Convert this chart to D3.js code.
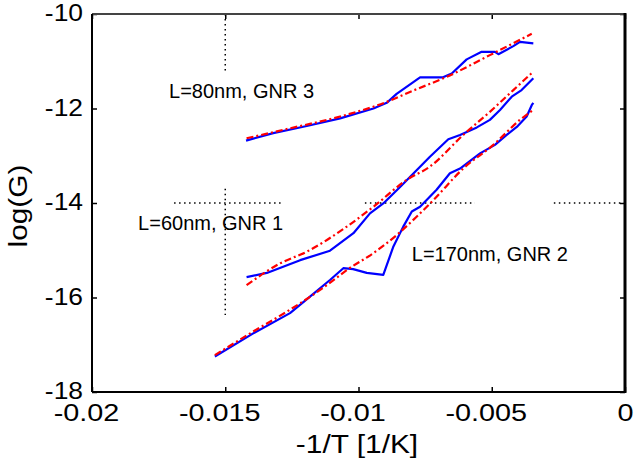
<!DOCTYPE html>
<html><head><meta charset="utf-8">
<script src="https://cdn.jsdelivr.net/npm/d3@7"></script>
<style>
body{margin:0;background:#fff;}
svg{display:block;}
text{font-family:"Liberation Sans",Arial,sans-serif;fill:#000;}
</style></head>
<body>
<script>
// ---- data ----
const xTickValues = [-0.02, -0.015, -0.01, -0.005, 0];
const xTickLabels = ["-0.02", "-0.015", "-0.01", "-0.005", "0"];
const yTickValues = [-10, -12, -14, -16, -18];
const yTickLabels = ["-10", "-12", "-14", "-16", "-18"];

const gnr3X = [-0.01422,-0.01320,-0.01194,-0.01069,-0.00944,-0.00894,-0.00857,-0.00769,-0.00683,-0.00650,-0.00594,-0.00538,-0.00488,-0.00475,-0.00419,-0.00394,-0.00344];
const gnr3Y = [-12.68,-12.52,-12.37,-12.21,-12.00,-11.88,-11.69,-11.34,-11.34,-11.26,-10.96,-10.80,-10.80,-10.85,-10.68,-10.59,-10.62];
const gnr3FitX = [-0.01420,-0.01257,-0.01069,-0.00894,-0.00794,-0.00669,-0.00507,-0.00350];
const gnr3FitY = [-12.63,-12.42,-12.17,-11.86,-11.62,-11.33,-10.87,-10.42];

const gnr1X = [-0.01420,-0.01344,-0.01219,-0.01107,-0.01019,-0.00957,-0.00907,-0.00844,-0.00732,-0.00663,-0.00619,-0.00556,-0.00507,-0.00469,-0.00425,-0.00388,-0.00344];
const gnr1Y = [-15.57,-15.48,-15.21,-15.01,-14.64,-14.22,-14.01,-13.66,-13.02,-12.65,-12.56,-12.40,-12.24,-12.03,-11.75,-11.61,-11.36];
const gnr1FitX = [-0.01420,-0.01295,-0.01194,-0.01044,-0.00944,-0.00819,-0.00732,-0.00607,-0.00507,-0.00419,-0.00344];
const gnr1FitY = [-15.74,-15.28,-15.03,-14.50,-14.08,-13.51,-13.23,-12.56,-12.07,-11.61,-11.22];

const gnr2X = [-0.01539,-0.01395,-0.01257,-0.01182,-0.01107,-0.01057,-0.01020,-0.00969,-0.00907,-0.00869,-0.00832,-0.00800,-0.00769,-0.00707,-0.00657,-0.00619,-0.00544,-0.00488,-0.00444,-0.00406,-0.00369,-0.00350,-0.00344];
const gnr2Y = [-17.25,-16.76,-16.33,-15.98,-15.63,-15.38,-15.40,-15.48,-15.52,-14.92,-14.50,-14.18,-14.08,-13.72,-13.37,-13.27,-12.95,-12.77,-12.56,-12.39,-12.17,-11.93,-11.88];
const gnr2FitX = [-0.01539,-0.01395,-0.01269,-0.01119,-0.01044,-0.00944,-0.00857,-0.00782,-0.00719,-0.00607,-0.00494,-0.00394,-0.00344];
const gnr2FitY = [-17.22,-16.72,-16.30,-15.74,-15.42,-15.06,-14.68,-14.29,-13.94,-13.27,-12.77,-12.24,-12.03];

// grid fragments (dotted) as [x1,x2] at y=-14 and [y1,y2] at x=-0.015
const hGridY = -14;
const hGridSegs = [[-0.01692,-0.01280],[-0.00976,-0.00563],[-0.00267,0]];
const vGridX = -0.015;
const vGridSegs = [[-10,-11.25],[-13.70,-16.37]];

const labelTexts = ["L=80nm, GNR 3", "L=60nm, GNR 1", "L=170nm, GNR 2"];
const labelX = [-0.01711, -0.01827, -0.0080];
const labelY = [-11.78, -14.57, -15.23];

const xTitle = "-1/T [1/K]";
const yTitle = "log(G)";

// ---- layout ----
const W = 636, H = 463;
const L = 92, R = 625, T = 14, B = 392;

const svg = d3.select("body").append("svg").attr("width", W).attr("height", H);
const x = d3.scaleLinear().domain([-0.02, 0]).range([L, R]);
const y = d3.scaleLinear().domain([-18, -10]).range([B, T]);

// grid fragments
const gridG = svg.append("g").attr("stroke", "#000").attr("stroke-width", 1.5)
  .attr("stroke-dasharray", "1.5,3.5");
hGridSegs.forEach(s => gridG.append("line")
  .attr("x1", x(s[0])).attr("x2", x(s[1])).attr("y1", y(hGridY)).attr("y2", y(hGridY)));
vGridSegs.forEach(s => gridG.append("line")
  .attr("x1", x(vGridX)).attr("x2", x(vGridX)).attr("y1", y(s[0])).attr("y2", y(s[1])));

// axes with inward ticks
const fmtX = d => xTickLabels[xTickValues.indexOf(d)];
const fmtY = d => yTickLabels[yTickValues.indexOf(d)];
const xAx = svg.append("g").attr("transform", `translate(0,${B})`)
  .call(d3.axisBottom(x).tickValues(xTickValues).tickFormat(fmtX).tickSizeInner(-5).tickSizeOuter(0).tickPadding(12));
const xAxTop = svg.append("g").attr("transform", `translate(0,${T})`)
  .call(d3.axisTop(x).tickValues(xTickValues).tickFormat("").tickSizeInner(-5).tickSizeOuter(0));
const yAx = svg.append("g").attr("transform", `translate(${L},0)`)
  .call(d3.axisLeft(y).tickValues(yTickValues).tickFormat(fmtY).tickSizeInner(-5).tickSizeOuter(0).tickPadding(9));
const yAxR = svg.append("g").attr("transform", `translate(${R},0)`)
  .call(d3.axisRight(y).tickValues(yTickValues).tickFormat("").tickSizeInner(-5).tickSizeOuter(0));
[xAx, xAxTop, yAx, yAxR].forEach(g => {
  g.select(".domain").remove();
  g.selectAll(".tick line").attr("stroke", "#000").attr("stroke-width", 1.5);
  g.selectAll("text").attr("font-family", '"Liberation Sans",Arial,sans-serif')
    .attr("font-size", 24).attr("fill", "#000");
});
// wider glyphs like the reference's bitmap font
xAx.selectAll(".tick text").each(function(d){
  const shift = d === 0 ? 0 : -6;
  d3.select(this).attr("x", 0).attr("dy", "0.71em")
    .attr("transform", `translate(${shift},0) scale(1.2,1)`);
});
yAx.selectAll(".tick text").each(function(){
  d3.select(this).attr("x", 0).attr("transform", "translate(-9,-1) scale(1.1,1)");
});

// frame
svg.append("line").attr("x1", L).attr("x2", R).attr("y1", T).attr("y2", T).attr("stroke", "#444").attr("stroke-width", 2);
svg.append("line").attr("x1", L).attr("x2", R).attr("y1", B).attr("y2", B).attr("stroke", "#000").attr("stroke-width", 2);
svg.append("line").attr("x1", L).attr("x2", L).attr("y1", T).attr("y2", B).attr("stroke", "#000").attr("stroke-width", 2);
svg.append("line").attr("x1", R).attr("x2", R).attr("y1", T - 1).attr("y2", B + 1).attr("stroke", "#000").attr("stroke-width", 3);

// series
const mk = (xs, ys) => xs.map((v, i) => [v, ys[i]]);
const lineLin = d3.line().x(d => x(d[0])).y(d => y(d[1]));
const lineSm = d3.line().x(d => x(d[0])).y(d => y(d[1])).curve(d3.curveMonotoneX);
const fits = [mk(gnr3FitX, gnr3FitY), mk(gnr1FitX, gnr1FitY), mk(gnr2FitX, gnr2FitY)];
const datas = [mk(gnr3X, gnr3Y), mk(gnr1X, gnr1Y), mk(gnr2X, gnr2Y)];
datas.forEach(d => svg.append("path").attr("d", lineLin(d)).attr("fill", "none")
  .attr("stroke", "#0000ff").attr("stroke-width", 2.2).attr("stroke-linejoin", "round"));
fits.forEach(d => svg.append("path").attr("d", lineSm(d)).attr("fill", "none")
  .attr("stroke", "#ff0000").attr("stroke-width", 2.2).attr("stroke-dasharray", "7,3,2,3"));

// labels
labelTexts.forEach((t, i) => svg.append("text").attr("x", x(labelX[i])).attr("y", y(labelY[i]))
  .attr("font-size", 20).text(t));

svg.append("text").attr("transform", `translate(357,453) scale(1.15,1)`).attr("text-anchor", "middle")
  .attr("font-size", 26).text(xTitle);
svg.append("text").attr("transform", `translate(27,206) rotate(-90) scale(1.15,1)`)
  .attr("text-anchor", "middle").attr("font-size", 26).text(yTitle);
</script>
</body></html>
